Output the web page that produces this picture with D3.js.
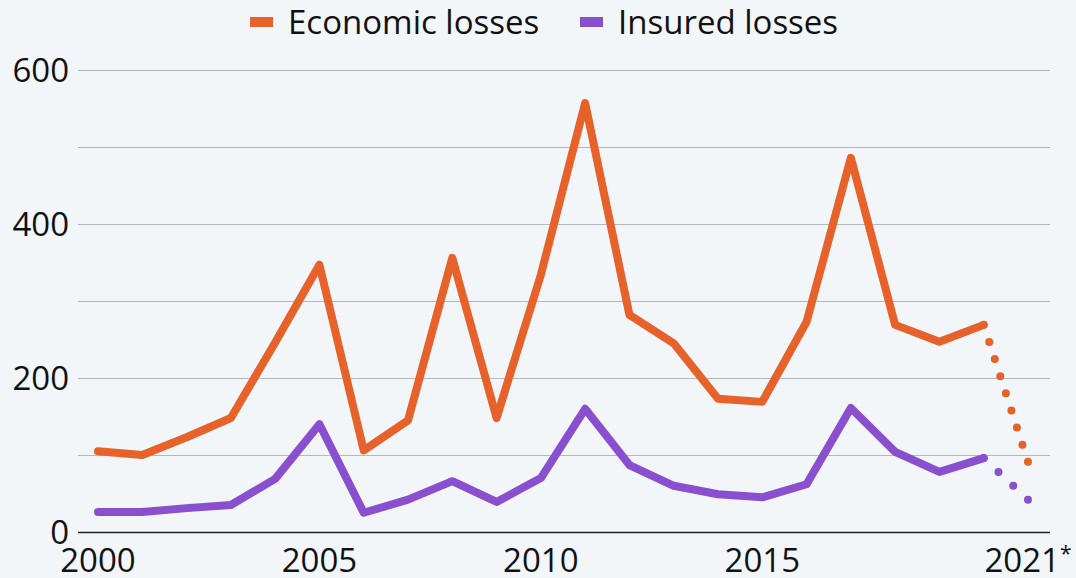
<html>
<head>
<meta charset="utf-8">
<script src="https://d3js.org/d3.v7.min.js"></script>
<style>
body { margin: 0; background: #f3f6f9; }
svg { display: block; }
text { font-family: "Open Sans", sans-serif; fill: #111; }
</style>
</head>
<body>
<svg width="1076" height="578"></svg>
<script>

var years = [2000, 2001, 2002, 2003, 2004, 2005, 2006, 2007, 2008, 2009, 2010,
             2011, 2012, 2013, 2014, 2015, 2016, 2017, 2018, 2019, 2020, 2021];
var economic = [105, 100, 123, 148, 246, 347, 106, 145, 356, 148, 334,
                557, 282, 245, 173, 169, 273, 486, 269, 247, 269, 91];
var insured = [26, 26, 31, 35, 69, 140, 25, 42, 66, 39, 70,
               160, 87, 60, 49, 45, 62, 161, 104, 78, 96, 42];
var xTicks = [2000, 2005, 2010, 2015, 2021];
var yTicks = [0, 100, 200, 300, 400, 500, 600];
var seriesNames = ["Economic losses", "Insured losses"];
var colors = ["#e6622a", "#8a4fcf"];

var svg = d3.select("svg");

var x = d3.scaleLinear().domain([2000, 2021]).range([98, 1028]);
var y = d3.scaleLinear().domain([0, 600]).range([532, 70]);

// gridlines
svg.append("g")
    .attr("transform", "translate(78,0)")
    .call(d3.axisLeft(y).tickValues(yTicks).tickSize(-972).tickFormat(""))
    .call(g => g.select(".domain").remove())
    .call(g => g.selectAll(".tick line")
        .attr("stroke", d => d === 0 ? "#222" : "#b4b8bc")
        .attr("stroke-width", d => d === 0 ? 1.6 : 1.2));

// y labels
svg.append("g").selectAll("text")
    .data(yTicks.filter(d => d % 200 === 0))
    .enter().append("text")
    .attr("x", 69)
    .attr("y", d => y(d) + 12)
    .attr("text-anchor", "end")
    .style("font-size", "33px")
    .text(d => d);

// x labels
var xl = svg.append("g").selectAll("text")
    .data(xTicks)
    .enter().append("text")
    .attr("x", d => x(d))
    .attr("y", 572)
    .attr("text-anchor", "middle")
    .style("font-size", "33px");
xl.append("tspan").text(d => d);
xl.filter(d => d === 2021).append("tspan")
    .attr("dy", -11).style("font-size", "21px").text("*");

var line = d3.line()
    .x(d => x(d.year))
    .y(d => y(d.value));

[economic, insured].forEach(function(vals, i) {
    var pts = years.map((yr, j) => ({year: yr, value: vals[j]}));
    var n = pts.length;
    svg.append("path")
        .datum(pts.slice(0, n - 1))
        .attr("d", line)
        .attr("fill", "none")
        .attr("stroke", colors[i])
        .attr("stroke-width", 8)
        .attr("stroke-linejoin", "round")
        .attr("stroke-linecap", "round");
    var dotted = svg.append("path")
        .datum(pts.slice(n - 2))
        .attr("d", line)
        .attr("fill", "none")
        .attr("stroke", colors[i])
        .attr("stroke-width", 8)
        .attr("stroke-linecap", "round");
    // spread dots so the last one lands on the 2021 point
    var len = dotted.node().getTotalLength();
    var count = Math.round(len / 18);
    var gap = len / count - 0.01;
    dotted.attr("stroke-dasharray", "0," + gap)
        .attr("stroke-dashoffset", -gap);
});

// legend
var legend = svg.append("g");
var lx = [250, 580];
seriesNames.forEach(function(name, i) {
    legend.append("rect")
        .attr("x", lx[i]).attr("y", 17)
        .attr("width", 23).attr("height", 10)
        .attr("fill", colors[i]);
    legend.append("text")
        .attr("x", lx[i] + 38).attr("y", 34)
        .style("font-size", "33px")
        .text(name);
});

</script>
</body>
</html>
